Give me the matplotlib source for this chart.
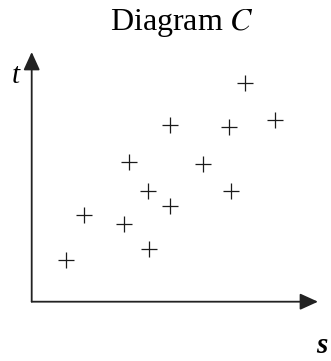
import matplotlib
matplotlib.use("Agg")
import matplotlib.pyplot as plt

# values (s, t)
s = [3.4, 5.2, 9.2, 11.7, 9.7, 11.6, 13.8, 13.8, 17.1, 19.7, 19.9, 21.3, 24.3]
t = [4.2, 8.7, 7.8, 5.3, 14.0, 11.1, 9.6, 17.7, 13.8, 17.5, 11.1, 21.9, 18.2]

plt.rcParams['font.family'] = ['Liberation Serif', 'DejaVu Serif']
plt.rcParams['mathtext.fontset'] = 'stix'

fig = plt.figure(figsize=(3.31, 3.61), dpi=100)
x0, y0 = 31.7, 301.7  # origin in pixels
ax = fig.add_axes([x0 / 331, (361 - y0) / 361, 1 - x0 / 331, y0 / 361])
ax.set_xlim(0, (331 - x0) / 10)
ax.set_ylim(0, y0 / 10)
ax.axis('off')

arrow = dict(arrowstyle='-|>,head_length=0.55,head_width=0.25', mutation_scale=20,
             color='#222222', lw=1.3, shrinkA=0, shrinkB=0)
ax.annotate('', xy=(28.63, 0), xytext=(0, 0), arrowprops=arrow, annotation_clip=False)
ax.annotate('', xy=(0, 24.97), xytext=(0, 0), arrowprops=arrow, annotation_clip=False)

ax.plot(s, t, linestyle='none', marker='+', markersize=11, markeredgewidth=0.9,
        color='#1a1a1a', clip_on=False)

fig.text(182 / 331, 1 - 23 / 361, 'Diagram $C$', ha='center', va='center', fontsize=23)
fig.text(15.5 / 331, 1 - 83 / 361, 't', ha='center', va='baseline', fontsize=21,
         style='italic')
fig.text(322 / 331, 1 - 353 / 361, 's', ha='center', va='baseline', fontsize=21,
         style='italic', weight='bold')

fig.savefig('out.png', dpi=100)
